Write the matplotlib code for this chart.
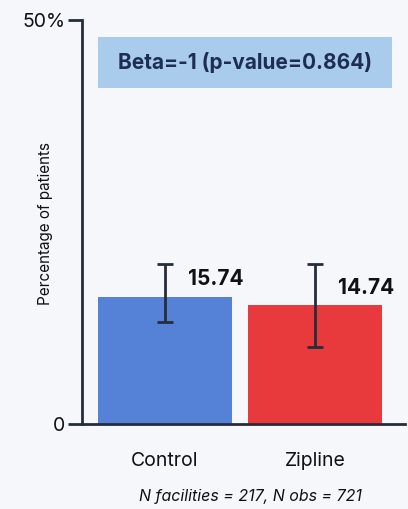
import matplotlib.pyplot as plt
from matplotlib.patches import Rectangle

# values
groups = ['Control', 'Zipline']
means = [15.74, 14.74]
ci_low = [12.6, 9.5]
ci_high = [19.8, 19.8]
bar_colors = ['#5581d7', '#e83a3d']
beta_text = 'Beta=-1 (p-value=0.864)'
footer = 'N facilities = 217, N obs = 721'

BG = '#f5f7fb'
INK = '#262d3a'

plt.rcParams['font.family'] = ['Inter', 'DejaVu Sans']

fig = plt.figure(figsize=(4.08, 5.09), dpi=100, facecolor=BG)
ax = fig.add_axes([0.201, 0.167, 0.792, 0.794], facecolor=BG)

x = list(range(len(groups)))
ax.bar(x, means, width=0.893, color=bar_colors, zorder=2)
err = [[m - lo for m, lo in zip(means, ci_low)], [hi - m for m, hi in zip(means, ci_high)]]
ax.errorbar(x, means, yerr=err, fmt='none', ecolor=INK, elinewidth=2, capsize=6, capthick=2, zorder=3)

for xi, m in zip(x, means):
    ax.text(xi + 0.15, m + 0.9, f'{m:.2f}', fontsize=15, fontweight='bold', color='#111111',
            ha='left', va='bottom', zorder=4)

ax.set_xlim(-0.553, 1.6)
ax.set_ylim(0, 50)
ax.set_yticks([0, 50])
ax.set_yticklabels(['0', '50%'])
ax.set_xticks(x)
ax.set_xticklabels(groups)

for s in ['top', 'right']:
    ax.spines[s].set_visible(False)
for s in ['left', 'bottom']:
    ax.spines[s].set_color(INK)
    ax.spines[s].set_linewidth(2)
ax.tick_params(axis='y', length=10, width=2, color=INK, labelsize=14, labelcolor='#111111', pad=2)
ax.tick_params(axis='x', length=0, labelsize=14, labelcolor='#111111', pad=20)
ax.set_ylabel('Percentage of patients', fontsize=11, color='#111111')
ax.yaxis.set_label_coords(-0.09, 0.497)

ax.add_patch(Rectangle((0.05, 0.832), 0.91, 0.126, transform=ax.transAxes,
                       facecolor='#a9cbec', edgecolor='none', zorder=1))
ax.text(0.505, 0.895, beta_text, transform=ax.transAxes, ha='center', va='center',
        fontsize=15, fontweight='bold', color='#1e2d52', zorder=2)

fig.text(0.613, 0.024, footer, ha='center', va='center', fontsize=11.5, style='italic', color='#111111')

fig.savefig('out.png', dpi=100, facecolor=BG)
